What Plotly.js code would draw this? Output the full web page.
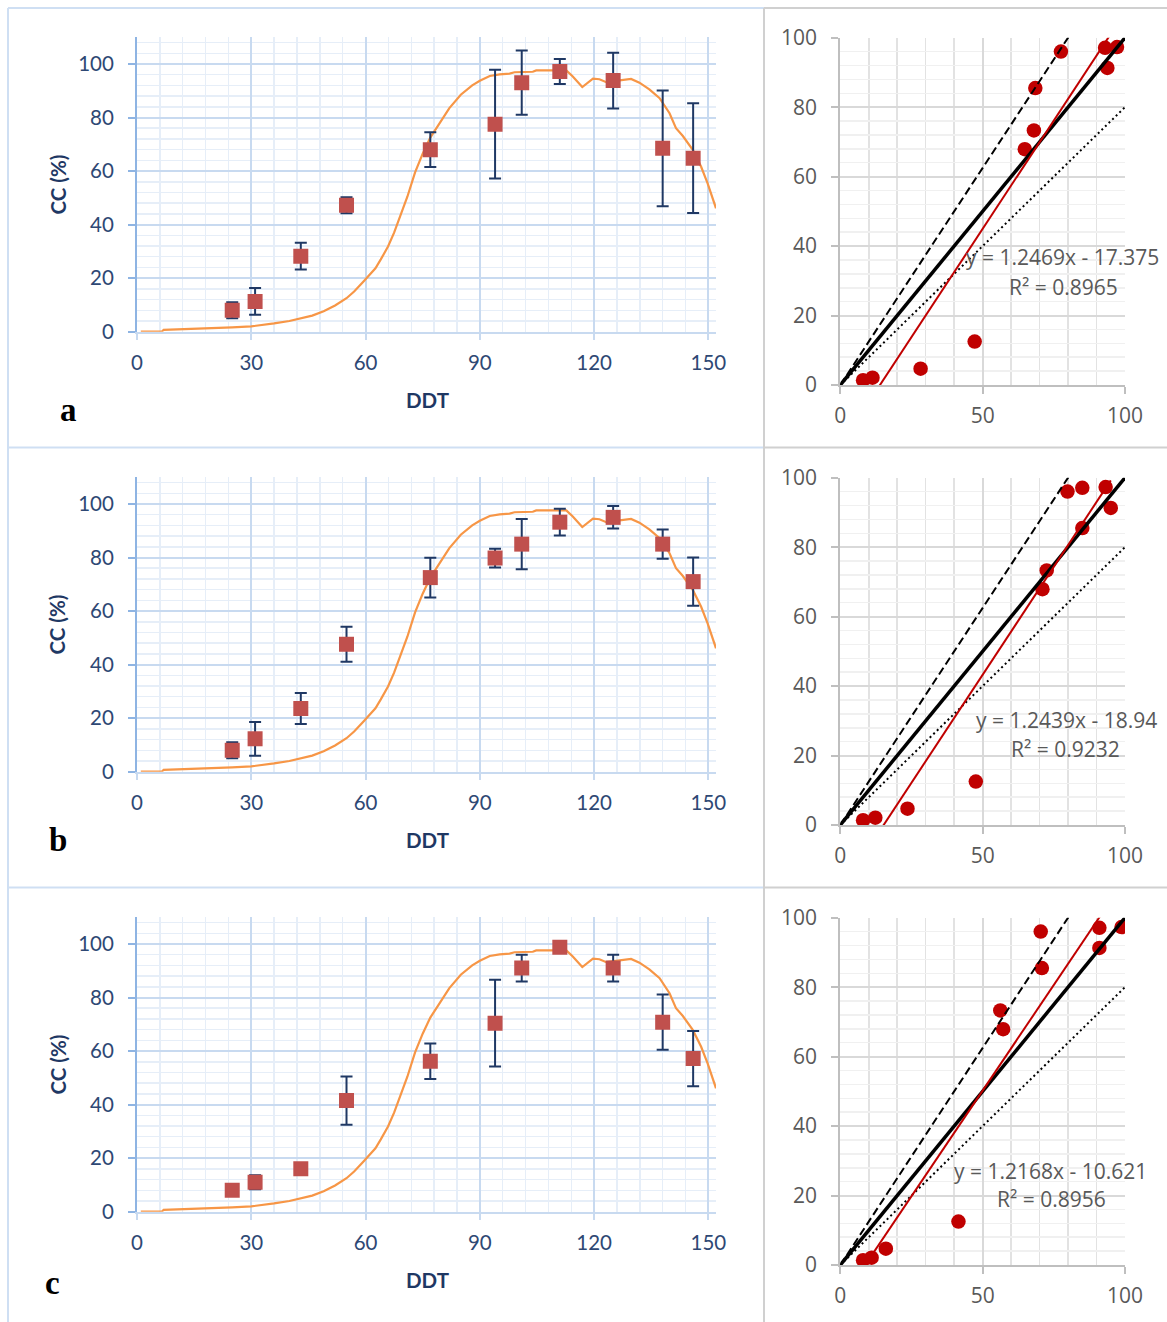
<!DOCTYPE html>
<html>
<head>
<meta charset="utf-8">
<script src="https://cdn.plot.ly/plotly-3.0.1.min.js"></script>
<style>html,body{margin:0;padding:0;background:#fff;}#chart{width:1167px;height:1322px;}</style>
</head>
<body>
<div id="chart"></div>
<script>
// ---------- data ----------
const panelLabels = ['a', 'b', 'c'];

// simulated canopy cover curve (same in all panels)
const ddtSim = [1, 6.5, 7, 12, 18, 25, 30, 33, 36, 40, 43, 46, 49, 52, 55, 57, 59.4, 62.6, 64, 65.9, 67.5, 69, 71, 73, 75, 77, 79.5, 82, 85, 88, 90, 92.6, 95.2, 97.8, 99.1, 103.9, 104.8, 110, 112.7, 114.4, 116.9, 119.7, 121.4, 123.2, 125.8, 127.5, 129.7, 131.9, 134.5, 137.2, 139.8, 141.5, 143.3, 145.9, 148.1, 149.8, 152];
const ccSim  = [0, 0, 0.7, 0.9, 1.2, 1.6, 2.0, 2.5, 3.1, 4.0, 4.9, 6.0, 7.6, 9.8, 12.5, 15.0, 18.7, 23.7, 27.0, 31.8, 37.0, 43.0, 50.5, 59.5, 66.5, 72.5, 78.0, 83.5, 88.5, 92.0, 93.7, 95.5, 96.1, 96.4, 96.9, 97.1, 97.6, 97.7, 97.6, 95.3, 91.4, 94.5, 94.3, 93.2, 93.7, 94.0, 94.4, 93.0, 90.5, 87.2, 81.6, 76.0, 73.1, 67.9, 61.6, 55.4, 46.1];

// observation dates (DDT)
const ddtObs = [25, 31, 43, 55, 77, 94, 101, 111, 125, 138, 146];
// observed CC means and error bars for panels a, b, c
const obsA = [8.0, 11.3, 28.2, 47.2, 68.0, 77.5, 93.0, 97.2, 93.8, 68.5, 64.8];
const errA = [3.0, 5.0, 5.0, 3.0, 6.5, 20.3, 12.0, 4.7, 10.4, 21.6, 20.5];
const obsB = [8.0, 12.3, 23.6, 47.6, 72.5, 79.8, 85.0, 93.2, 95.0, 85.0, 71.0];
const errB = [3.0, 6.3, 5.8, 6.5, 7.4, 3.5, 9.4, 5.0, 4.2, 5.5, 9.0];
const obsC = [8.0, 11.0, 16.0, 41.5, 56.2, 70.4, 91.0, 98.8, 91.0, 70.8, 57.2];
const errC = [0, 2.6, 0, 9.0, 6.6, 16.2, 5.0, 0, 5.0, 10.3, 10.3];
// simulated CC at observation dates (y of right-hand scatter)
const simAtObs = [1.4, 2.1, 4.7, 12.5, 73.3, 96.0, 97.1, 97.3, 91.3, 85.5, 67.9];

// regression lines
const regSlope = [1.2469, 1.2439, 1.2168];
const regIntercept = [-17.375, -18.94, -10.621];
const regR2 = ['0.8965', '0.9232', '0.8956'];
// reference lines: 1:1, +25 %, -20 %
const refFactors = [1, 1.25, 0.8];

const xTicksLeft = [0, 30, 60, 90, 120, 150];
const xTicksRight = [0, 50, 100];

// ---------- layout helpers ----------
const W = 1167, H = 1322;
const fx = p => p / W;
const fy = p => 1 - p / H;

const obsAll = [obsA, obsB, obsC];
const errAll = [errA, errB, errC];

const traces = [];
const layout = {
  width: W, height: H,
  margin: {l: 0, r: 0, t: 0, b: 0},
  paper_bgcolor: '#ffffff', plot_bgcolor: '#ffffff',
  showlegend: false,
  annotations: [], shapes: []
};

const leftTickFont = {family: 'Lato, sans-serif', size: 20.5, color: '#2e4874'};
const rightTickFont = {family: '"Open Sans", sans-serif', size: 21, color: '#595959'};
const titleFont = {family: 'Lato, sans-serif', size: 20.5, color: '#1f3864', weight: 'bold'};

for (let i = 0; i < 3; i++) {
  const off = 440 * i;
  const nL = 2 * i + 1, nR = 2 * i + 2;
  const xl = 'x' + (nL === 1 ? '' : nL), yl = 'y' + (nL === 1 ? '' : nL);
  const xr = 'x' + nR, yr = 'y' + nR;
  const obs = obsAll[i], err = errAll[i];

  // left: simulated curve
  traces.push({x: ddtSim, y: ccSim, xaxis: xl, yaxis: yl, mode: 'lines',
    line: {color: '#F79646', width: 2.2}, hoverinfo: 'skip'});
  // left: error bars (drawn beneath the squares)
  traces.push({x: ddtObs, y: obs, xaxis: xl, yaxis: yl, mode: 'markers',
    marker: {size: 1, opacity: 0},
    error_y: {type: 'data', array: err, visible: true, color: '#1F3864', thickness: 2, width: 6},
    hoverinfo: 'skip'});
  // left: observed
  traces.push({x: ddtObs, y: obs, xaxis: xl, yaxis: yl, mode: 'markers',
    marker: {symbol: 'square', size: 15, color: '#C0504D'}});

  // right: scatter sim vs obs
  traces.push({x: obs, y: simAtObs, xaxis: xr, yaxis: yr, mode: 'markers',
    marker: {symbol: 'circle', size: 14.5, color: '#C00000'}});
  // right: reference lines
  const refStyles = [{color: '#000', width: 3.5, dash: 'solid'},
                     {color: '#000', width: 2, dash: '8px,4px'},
                     {color: '#000', width: 2, dash: '2px,3px'}];
  refFactors.forEach((f, k) => {
    traces.push({x: [0, 100], y: [0, 100 * f], xaxis: xr, yaxis: yr, mode: 'lines',
      line: refStyles[k], hoverinfo: 'skip'});
  });
  // right: regression line over the data range
  const xmin = Math.min(...obs), xmax = Math.max(...obs);
  traces.push({x: [xmin, xmax], y: [regSlope[i] * xmin + regIntercept[i], regSlope[i] * xmax + regIntercept[i]],
    xaxis: xr, yaxis: yr, mode: 'lines', line: {color: '#C00000', width: 2}, hoverinfo: 'skip'});

  // axes (left)
  layout['xaxis' + (nL === 1 ? '' : nL)] = {
    domain: [fx(137), fx(716)], anchor: yl, range: [0, 152],
    tickvals: xTicksLeft, tickfont: leftTickFont,
    showgrid: true, gridcolor: '#c8daf0', gridwidth: 2,
    minor: {dtick: 6, tick0: 0, showgrid: true, gridcolor: '#e6eef8', gridwidth: 1.5},
    showline: true, linecolor: '#c8daf0', linewidth: 2,
    ticks: 'outside', ticklen: 6, tickwidth: 2, tickcolor: '#c8daf0',
    ticklabelstandoff: 6, zeroline: false, fixedrange: true
  };
  layout['yaxis' + (nL === 1 ? '' : nL)] = {
    domain: [fy(331.7 + off), fy(37.2 + off)], anchor: xl, range: [0, 110],
    tick0: 0, dtick: 20, tickfont: leftTickFont,
    showgrid: true, gridcolor: '#c8daf0', gridwidth: 2,
    minor: {dtick: 4, tick0: 0, showgrid: true, gridcolor: '#e6eef8', gridwidth: 1.5},
    showline: true, linecolor: '#8eb4e3', linewidth: 2,
    ticks: 'outside', ticklen: 7, tickwidth: 2, tickcolor: '#8eb4e3',
    ticklabelstandoff: 10, zeroline: false, fixedrange: true
  };
  // axes (right)
  layout['xaxis' + nR] = {
    domain: [fx(840.3), fx(1125)], anchor: yr, range: [0, 100],
    tickvals: xTicksRight, tickfont: rightTickFont,
    showgrid: true, gridcolor: '#d9d9d9', gridwidth: 2,
    minor: {dtick: 10, tick0: 0, showgrid: true, gridcolor: '#e2e2e2', gridwidth: 1.5},
    showline: true, linecolor: '#bfbfbf', linewidth: 2,
    ticks: 'outside', ticklen: 7, tickwidth: 2, tickcolor: '#bfbfbf',
    ticklabelstandoff: 4, zeroline: false, fixedrange: true
  };
  layout['yaxis' + nR] = {
    domain: [fy(385 + off), fy(37.7 + off)], anchor: xr, range: [0, 100],
    tick0: 0, dtick: 20, tickfont: rightTickFont,
    showgrid: true, gridcolor: '#d9d9d9', gridwidth: 2,
    minor: {dtick: 4, tick0: 0, showgrid: true, gridcolor: '#f0f0f0', gridwidth: 1.5},
    showline: true, linecolor: '#bfbfbf', linewidth: 2,
    ticks: 'outside', ticklen: 7, tickwidth: 2, tickcolor: '#bfbfbf',
    ticklabelstandoff: 10, zeroline: false, fixedrange: true
  };

  // axis titles
  layout.annotations.push({xref: 'paper', yref: 'paper', x: fx(57), y: fy(184.5 + off),
    text: 'CC (%)', textangle: -90, showarrow: false, xanchor: 'center', yanchor: 'middle', font: titleFont});
  layout.annotations.push({xref: 'paper', yref: 'paper', x: fx(427), y: fy(400 + off),
    text: 'DDT', showarrow: false, xanchor: 'center', yanchor: 'middle', font: titleFont});
  // panel label
  const labPos = [[68, 410], [58, 840], [52, 1283]][i];
  layout.annotations.push({xref: 'paper', yref: 'paper', x: fx(labPos[0]), y: fy(labPos[1]),
    text: panelLabels[i], showarrow: false, xanchor: 'center', yanchor: 'middle',
    font: {family: '"Liberation Serif", serif', size: 33, color: '#000', weight: 'bold'}});
  // regression equation
  const eqPos = [[1062, 257, 1063, 287], [1066, 720, 1065, 749], [1050, 1171, 1051, 1199]][i];
  const eqFont = {family: '"Open Sans", sans-serif', size: 21, color: '#595959'};
  layout.annotations.push({xref: 'paper', yref: 'paper', x: fx(eqPos[0]), y: fy(eqPos[1]),
    text: 'y = ' + regSlope[i] + 'x - ' + Math.abs(regIntercept[i]), showarrow: false,
    xanchor: 'center', yanchor: 'middle', font: eqFont});
  layout.annotations.push({xref: 'paper', yref: 'paper', x: fx(eqPos[2]), y: fy(eqPos[3]),
    text: 'R² = ' + regR2[i], showarrow: false, xanchor: 'center', yanchor: 'middle', font: eqFont});
}

// panel frames
const blue = '#cfdff3', gray = '#d0d0d0';
[8, 447.5, 887.5].forEach(yy => {
  layout.shapes.push({type: 'line', xref: 'paper', yref: 'paper', x0: fx(8), x1: fx(764), y0: fy(yy), y1: fy(yy), line: {color: blue, width: 2}});
  layout.shapes.push({type: 'line', xref: 'paper', yref: 'paper', x0: fx(764), x1: fx(1167), y0: fy(yy), y1: fy(yy), line: {color: gray, width: 2}});
});
layout.shapes.push({type: 'line', xref: 'paper', yref: 'paper', x0: fx(8), x1: fx(8), y0: fy(8), y1: 0, line: {color: blue, width: 2}});
layout.shapes.push({type: 'line', xref: 'paper', yref: 'paper', x0: fx(764), x1: fx(764), y0: fy(8), y1: 0, line: {color: gray, width: 2}});

Plotly.newPlot('chart', traces, layout, {staticPlot: true, displayModeBar: false});
</script>
</body>
</html>
